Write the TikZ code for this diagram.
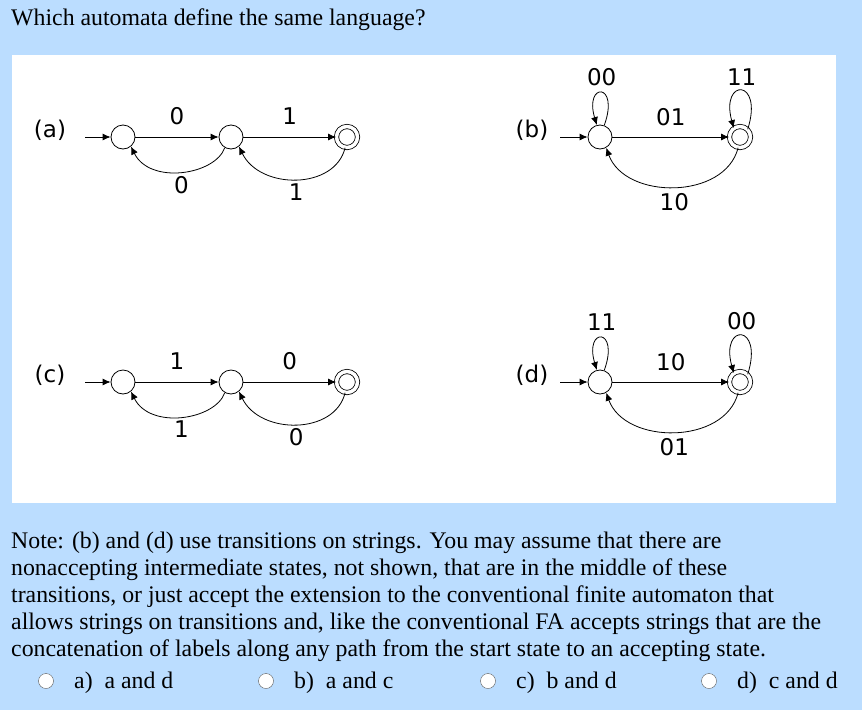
\documentclass[tikz,border=0pt]{standalone}
\usepackage{fontspec}
\setmainfont{Liberation Serif}
\newfontfamily\lblfont{DejaVu Sans}
\usetikzlibrary{arrows.meta}
\definecolor{bgblue}{HTML}{BBDDFF}
\begin{document}
\begin{tikzpicture}[x=1pt,y=-1pt,
  st/.style={circle,draw,minimum size=24pt,inner sep=0pt,line width=0.8pt},
  acc/.style={circle,draw,double,double distance=3.5pt,minimum size=21pt,inner sep=0pt,line width=0.8pt},
  tr/.style={-{Latex[length=8pt,width=7pt]},line width=0.8pt},
  lb/.style={font=\lblfont\fontsize{23}{23}\selectfont,inner sep=0pt},
  tx/.style={font=\fontsize{23.8}{26}\selectfont,inner sep=0pt,anchor=base west},
  radio/.style={circle,draw=gray!70!black,fill=white,minimum size=15pt,inner sep=0pt}]
\fill[bgblue] (0,0) rectangle (862,710);
\fill[white] (12,55) rectangle (836,503);
\node[tx] (q) at (11,25) {Which automata define the same language?};
% (a)
\node[lb] (la) at (50,130) {(a)};
\node[st] (a1) at (123,137) {};
\node[st] (a2) at (231,137) {};
\node[acc] (a3) at (347,137) {};
\coordinate (as) at (85,137);
\draw[tr] (as) -- (a1);
\draw[tr] (a1) -- node[lb,above=12pt]{0} (a2);
\draw[tr] (a2) -- node[lb,above=12pt]{1} (a3);
\draw[tr] (a2.-120) .. controls (215,175) and (150,185) .. node[lb,below=4pt]{0} (a1.-50);
\draw[tr] (a3.-100) .. controls (335,190) and (260,190) .. node[lb,below=4pt]{1} (a2.-50);
% (b)
\node[lb] (lbb) at (532,130) {(b)};
\node[st] (b1) at (600,137) {};
\node[acc] (b2) at (740,137) {};
\coordinate (bs) at (560,137);
\draw[tr] (bs) -- (b1);
\draw[tr] (b1) -- node[lb,above=11pt]{01} (b2);
\draw[tr] (b1.70) .. controls (620,82) and (584,82) .. node[lb,above=7pt]{00} (b1.105);
\draw[tr] (b2.45) .. controls (764,78) and (720,78) .. node[lb,above=5pt]{11} (b2.125);
\draw[tr] (b2.-100) .. controls (725,200) and (625,200) .. node[lb,below=6pt]{10} (b1.-60);
% (c)
\node[lb] (lc) at (50,375) {(c)};
\node[st] (c1) at (123,382) {};
\node[st] (c2) at (231,382) {};
\node[acc] (c3) at (347,382) {};
\coordinate (cs) at (85,382);
\draw[tr] (cs) -- (c1);
\draw[tr] (c1) -- node[lb,above=12pt]{1} (c2);
\draw[tr] (c2) -- node[lb,above=12pt]{0} (c3);
\draw[tr] (c2.-120) .. controls (215,420) and (150,430) .. node[lb,below=4pt]{1} (c1.-50);
\draw[tr] (c3.-100) .. controls (335,435) and (260,435) .. node[lb,below=4pt]{0} (c2.-50);
% (d)
\node[lb] (ld) at (532,375) {(d)};
\node[st] (d1) at (600,382) {};
\node[acc] (d2) at (740,382) {};
\coordinate (ds) at (560,382);
\draw[tr] (ds) -- (d1);
\draw[tr] (d1) -- node[lb,above=11pt]{10} (d2);
\draw[tr] (d1.70) .. controls (620,327) and (584,327) .. node[lb,above=7pt]{11} (d1.105);
\draw[tr] (d2.45) .. controls (764,323) and (720,323) .. node[lb,above=5pt]{00} (d2.125);
\draw[tr] (d2.-100) .. controls (725,445) and (625,445) .. node[lb,below=6pt]{01} (d1.-60);
% note
\node[tx] (n1) at (11,548) {Note: (b) and (d) use transitions on strings. You may assume that there are};
\node[tx] (n2) at (11,575) {nonaccepting intermediate states, not shown, that are in the middle of these};
\node[tx] (n3) at (11,602) {transitions, or just accept the extension to the conventional finite automaton that};
\node[tx] (n4) at (11,629) {allows strings on transitions and, like the conventional FA accepts strings that are the};
\node[tx] (n5) at (11,656) {concatenation of labels along any path from the start state to an accepting state.};
\node[radio] (r1) at (46,681) {};
\node[tx] (o1) at (74,688) {a)\ \ a and d};
\node[radio] (r2) at (266,681) {};
\node[tx] (o2) at (294,688) {b)\ \ a and c};
\node[radio] (r3) at (488,681) {};
\node[tx] (o3) at (516,688) {c)\ \ b and d};
\node[radio] (r4) at (709,681) {};
\node[tx] (o4) at (737,688) {d)\ \ c and d};
\end{tikzpicture}
\end{document}
